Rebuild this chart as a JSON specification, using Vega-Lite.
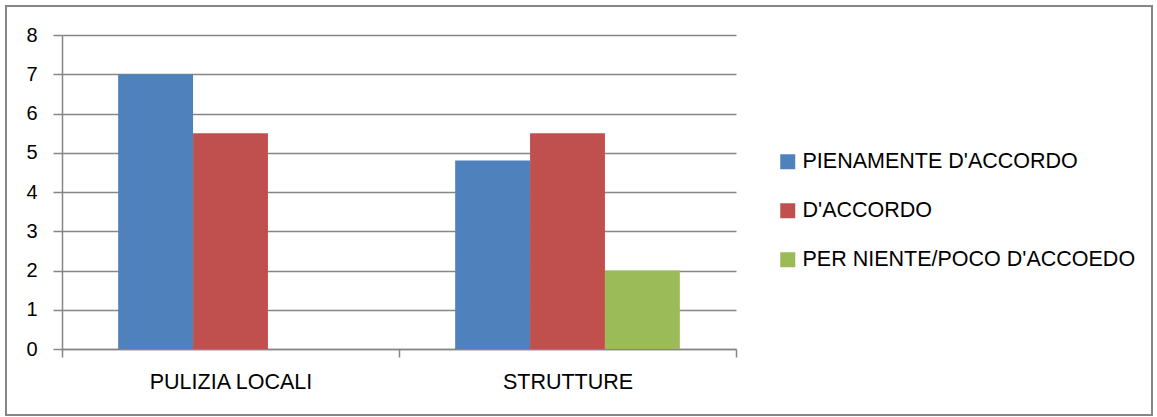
{
  "$schema": "https://vega.github.io/schema/vega-lite/v6.json",
  "width": 674,
  "height": 314,
  "autosize": "none",
  "padding": {"left": 62, "top": 35, "right": 421, "bottom": 68},
  "background": "white",
  "data": {
    "values": [
      {"categoria": "PULIZIA LOCALI", "serie": "PIENAMENTE D'ACCORDO", "valore": 7},
      {"categoria": "PULIZIA LOCALI", "serie": "D'ACCORDO", "valore": 5.5},
      {"categoria": "STRUTTURE", "serie": "PIENAMENTE D'ACCORDO", "valore": 4.8},
      {"categoria": "STRUTTURE", "serie": "D'ACCORDO", "valore": 5.5},
      {"categoria": "STRUTTURE", "serie": "PER NIENTE/POCO D'ACCOEDO", "valore": 2}
    ]
  },
  "layer": [
    {
      "mark": {"type": "rect", "fill": null, "stroke": "#878787", "strokeWidth": 1.5, "clip": false},
      "encoding": {
        "x": {"value": -56},
        "x2": {"value": 1090},
        "y": {"value": -29},
        "y2": {"value": 380}
      }
    },
    {
      "mark": {"type": "bar"},
      "encoding": {
        "x": {
          "field": "categoria",
          "type": "nominal",
          "sort": ["PULIZIA LOCALI", "STRUTTURE"],
          "scale": {"paddingInner": 0, "paddingOuter": 0},
          "axis": {
            "title": null,
            "labelAngle": 0,
            "labelFont": "Liberation Sans",
            "labelFontSize": 21.5,
            "labelColor": "#000000",
            "labelPadding": 14,
            "domainColor": "#868686",
            "domainWidth": 1.5,
            "tickColor": "#868686",
            "tickWidth": 1.5,
            "tickSize": 8,
            "tickBand": "extent"
          }
        },
        "xOffset": {
          "field": "serie",
          "type": "nominal",
          "sort": ["PIENAMENTE D'ACCORDO", "D'ACCORDO", "PER NIENTE/POCO D'ACCOEDO"],
          "scale": {"paddingInner": 0, "paddingOuter": 0.75}
        },
        "y": {
          "field": "valore",
          "type": "quantitative",
          "scale": {"domain": [0, 8], "nice": false},
          "axis": {
            "title": null,
            "values": [0, 1, 2, 3, 4, 5, 6, 7, 8],
            "labelFont": "Liberation Sans",
            "labelFontSize": 20,
            "labelColor": "#000000",
            "labelPadding": 16,
            "grid": true,
            "gridColor": "#868686",
            "gridWidth": 1.5,
            "domainColor": "#868686",
            "domainWidth": 1.5,
            "tickColor": "#868686",
            "tickWidth": 1.5,
            "tickSize": 9
          }
        },
        "color": {
          "field": "serie",
          "type": "nominal",
          "sort": ["PIENAMENTE D'ACCORDO", "D'ACCORDO", "PER NIENTE/POCO D'ACCOEDO"],
          "scale": {
            "domain": ["PIENAMENTE D'ACCORDO", "D'ACCORDO", "PER NIENTE/POCO D'ACCOEDO"],
            "range": ["#4F81BD", "#C0504D", "#9BBB59"]
          },
          "legend": {
            "title": null,
            "orient": "none",
            "legendX": 715,
            "legendY": 116,
            "symbolType": "square",
            "symbolSize": 225,
            "symbolStrokeWidth": 0,
            "labelFont": "Liberation Sans",
            "labelFontSize": 21.5,
            "labelColor": "#000000",
            "labelOffset": 4,
            "rowPadding": 26,
            "labelLimit": 400
          }
        }
      }
    }
  ],
  "config": {"view": {"stroke": null}}
}
